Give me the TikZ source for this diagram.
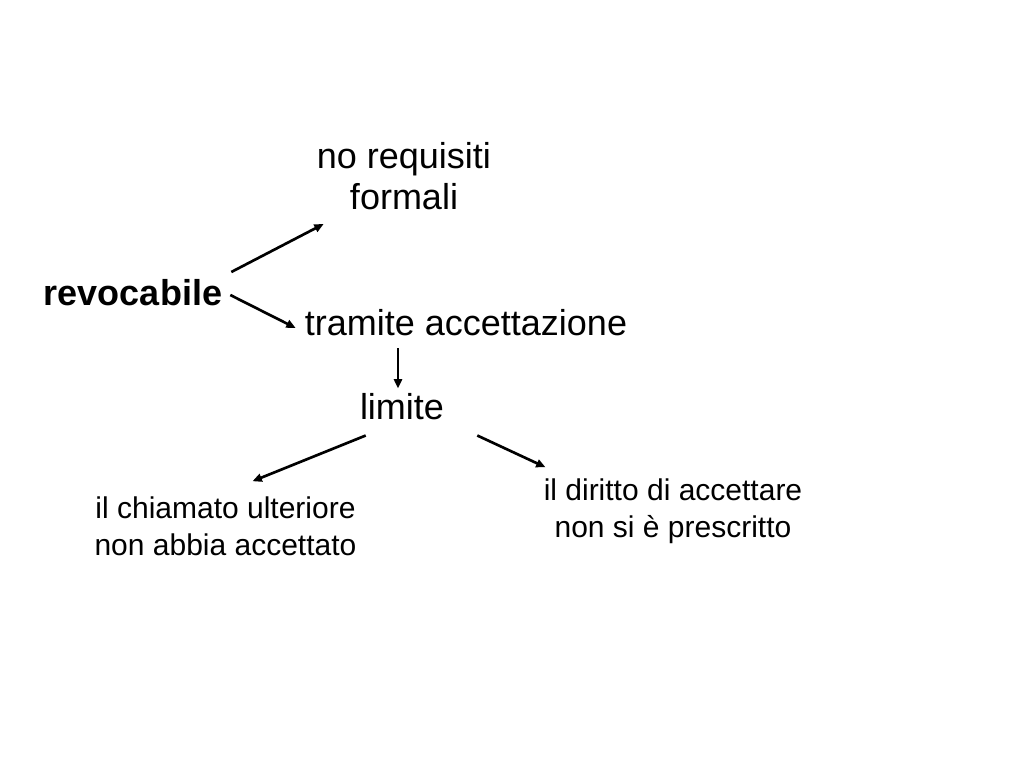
\documentclass[tikz,border=0pt]{standalone}
\usepackage{fontspec}
\setmainfont{Liberation Sans}
\usetikzlibrary{arrows.meta,calc}
\tikzset{
  big/.style={inner sep=0pt,align=center,font=\fontsize{27}{30.75}\selectfont},
  small/.style={inner sep=0pt,align=center,font=\fontsize{22.5}{27.75}\selectfont},
  link/.style={line width=2pt,-{Triangle[length=7pt,width=6pt]}}
}
\begin{document}
\begin{tikzpicture}[x=0.75pt,y=-0.75pt]
   % page frame (1024 x 768 px)
   \useasboundingbox (0,0) rectangle (1024,768);
   % top level
   \node[big,font=\fontsize{27}{30.75}\selectfont\bfseries] (rev) at (133,293) {revocabile};
   \node[big] (req) at (404,176) {no requisiti\\formali};
   \node[big] (tram) at (466,323) {tramite accettazione};
   % limit and its two cases
   \node[big] (lim) at (402,407) {limite};
   \node[small] (chi) at (225.5,526) {il chiamato ulteriore\\non abbia accettato};
   \node[small] (dir) at (673,511) {il diritto di accettare\\non si è prescritto};
   % arrows
   \draw[link] ([shift={(9,-21)}]rev.east) -- ([shift={(7,14)}]req.south west);
   \draw[link] ([shift={(8,2)}]rev.east) -- ([shift={(-9,5)}]tram.west);
   \draw[link] ([shift={(-4,12)}]tram.south -| lim.north) -- ([shift={(-4,-5)}]lim.north);
   \draw[link] ([shift={(6,15)}]lim.south west) -- ([shift={(27,-15)}]chi.north);
   \draw[link] ([shift={(33,15)}]lim.south east) -- ([shift={(2,-11)}]dir.north west);
\end{tikzpicture}
\end{document}
